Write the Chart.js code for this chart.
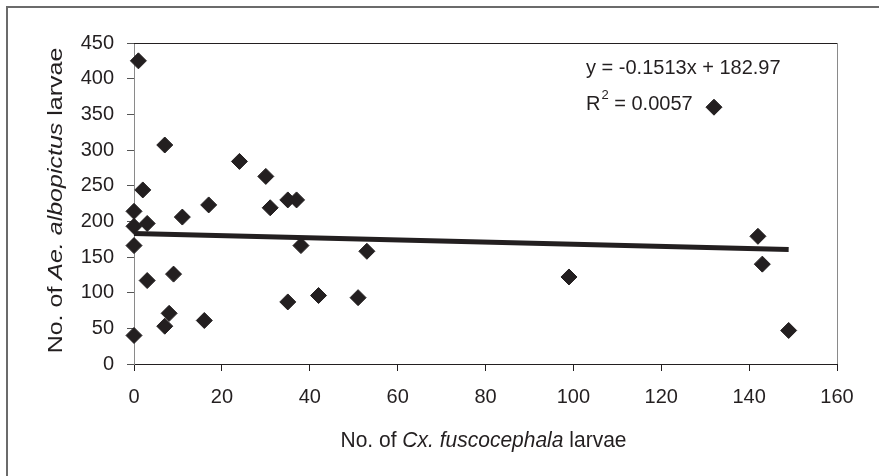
<!DOCTYPE html>
<html>
<head>
<meta charset="utf-8">
<script src="https://cdn.jsdelivr.net/npm/chart.js@4/dist/chart.umd.min.js"></script>
<style>
html,body{margin:0;padding:0;background:#fff;}
#wrap{position:relative;width:879px;height:476px;}
</style>
</head>
<body>
<div id="wrap"><canvas id="c" width="879" height="476"></canvas></div>
<script>
// ---- data ----
const cxLarvae = [0, 0, 0, 0, 1, 2, 3, 3, 7, 7, 8, 9, 11, 16, 17, 24, 30, 31, 35, 37, 35, 38, 42, 51, 53, 99, 132, 142, 143, 149];
const aeLarvae = [40, 166, 193, 214, 425, 244, 197, 117, 307, 53, 71, 126, 206, 61, 223, 284, 263, 219, 230, 230, 87, 166, 96, 93, 158, 122, 360, 179, 140, 47];
const xTickValues = [0, 20, 40, 60, 80, 100, 120, 140, 160];
const yTickValues = [0, 50, 100, 150, 200, 250, 300, 350, 400, 450];
const trendSlope = -0.1513;
const trendIntercept = 182.97;
const trendXRange = [0, 149];
const equationLabel = 'y = -0.1513x + 182.97';
const r2Value = '0.0057';
const xTitleParts = [['No. of ', false], ['Cx. fuscocephala', true], [' larvae', false]];
const yTitleParts = [['No. of ', false], ['Ae. albopictus', true], [' larvae', false]];

const FONT = '"Liberation Sans", Arial, Helvetica, sans-serif';
const INK = '#231f20';

const points = cxLarvae.map((x, i) => ({x: x, y: aeLarvae[i]}));
const trendPoints = trendXRange.map(x => ({x: x, y: trendSlope * x + trendIntercept}));

function drawParts(ctx, parts, size) {
  let total = 0;
  const widths = parts.map(([t, it]) => {
    ctx.font = (it ? 'italic ' : '') + size + 'px ' + FONT;
    const w = ctx.measureText(t).width; total += w; return w;
  });
  let x = -total / 2;
  parts.forEach(([t, it], i) => {
    ctx.font = (it ? 'italic ' : '') + size + 'px ' + FONT;
    ctx.fillText(t, x, 0);
    x += widths[i];
  });
}

const decor = {
  id: 'decor',
  beforeDraw(chart) {
    const ctx = chart.ctx;
    ctx.save();
    ctx.fillStyle = '#fff';
    ctx.fillRect(0, 0, chart.width, chart.height);
    ctx.restore();
  },
  afterDraw(chart) {
    const ctx = chart.ctx;
    const a = chart.chartArea;
    ctx.save();
    // outer frame (left & top visible)
    ctx.fillStyle = '#6b6b6b';
    ctx.fillRect(6, 6, chart.width - 6, 2);
    ctx.fillRect(6, 6, 2, chart.height - 6);
    // plot frame top & right
    ctx.fillStyle = INK;
    ctx.fillRect(Math.round(a.left), Math.round(a.top), Math.round(a.right - a.left), 1);
    ctx.fillStyle = '#8a8a8a';
    ctx.fillRect(Math.round(a.right), Math.round(a.top), 1, Math.round(a.bottom - a.top));
    // axis titles
    ctx.fillStyle = INK;
    ctx.textBaseline = 'alphabetic';
    ctx.textAlign = 'left';
    ctx.save();
    ctx.translate((a.left + a.right) / 2 - 2, a.bottom + 83);
    ctx.scale(1, 1.06);
    drawParts(ctx, xTitleParts, 21);
    ctx.restore();
    ctx.save();
    ctx.translate(62, (a.top + a.bottom) / 2 - 3);
    ctx.rotate(-Math.PI / 2);
    ctx.scale(1.25, 1);
    drawParts(ctx, yTitleParts, 20);
    ctx.restore();
    // regression label
    ctx.font = '20px ' + FONT;
    ctx.fillText(equationLabel, 586, 74);
    ctx.fillText('R', 586, 110);
    const rw = ctx.measureText('R').width;
    ctx.font = '13px ' + FONT;
    ctx.fillText('2', 586 + rw + 1, 99);
    const sw = ctx.measureText('2').width;
    ctx.font = '20px ' + FONT;
    ctx.fillText(' = ' + r2Value, 586 + rw + 1 + sw, 110);
    ctx.restore();
  }
};

new Chart(document.getElementById('c'), {
  type: 'scatter',
  data: {
    datasets: [
      {
        label: 'Trend',
        type: 'line',
        data: trendPoints,
        borderColor: INK,
        borderWidth: 5,
        pointRadius: 0,
        fill: false,
        clip: false,
        order: 0
      },
      {
        label: 'Larvae',
        data: points,
        pointStyle: 'rectRot',
        pointRadius: 8,
        pointBorderWidth: 1,
        backgroundColor: INK,
        borderColor: INK,
        clip: false,
        order: 1
      }
    ]
  },
  plugins: [decor],
  options: {
    responsive: false,
    devicePixelRatio: 1,
    animation: false,
    layout: {padding: {top: 43, right: 42, left: 0, bottom: 0}},
    plugins: {legend: {display: false}, tooltip: {enabled: false}},
    scales: {
      x: {
        type: 'linear',
        min: 0, max: 160,
        afterBuildTicks: s => { s.ticks = xTickValues.map(v => ({value: v})); },
        afterFit: s => { s.height = 112; },
        ticks: {color: INK, font: {family: FONT, size: 20}, padding: 14},
        grid: {drawOnChartArea: false, drawTicks: true, tickLength: 7, color: INK},
        border: {color: INK, width: 1}
      },
      y: {
        type: 'linear',
        min: 0, max: 450,
        afterBuildTicks: s => { s.ticks = yTickValues.map(v => ({value: v})); },
        afterFit: s => { s.width = 134; },
        ticks: {color: INK, font: {family: FONT, size: 20}, padding: 13},
        grid: {drawOnChartArea: false, drawTicks: true, tickLength: 7, color: '#555'},
        border: {color: '#8a8a8a', width: 1}
      }
    }
  }
});
</script>
</body>
</html>
